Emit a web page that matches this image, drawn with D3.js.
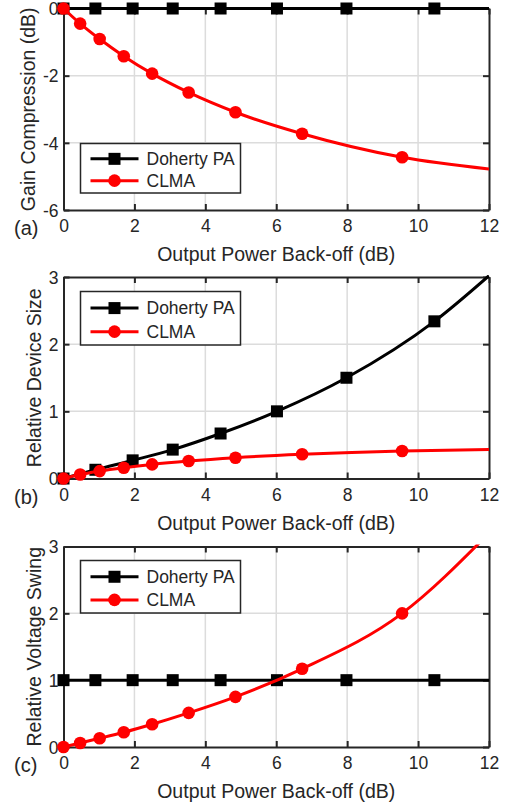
<!DOCTYPE html>
<html>
<head>
<meta charset="utf-8">
<script src="https://cdn.jsdelivr.net/npm/d3@7/dist/d3.min.js"></script>
<style>
  html, body { margin: 0; padding: 0; background: #fff; }
  svg { display: block; }
  text { font-family: "Liberation Sans", Arial, Helvetica, sans-serif; fill: #262626; }
</style>
</head>
<body>
<script>
// ---------------- DATA ----------------
const xTicks = [0, 2, 4, 6, 8, 10, 12];
const xTickLabels = ["0", "2", "4", "6", "8", "10", "12"];
const xDoherty = [0, 0.9, 1.95, 3.08, 4.43, 6.02, 7.98, 10.46];
const xCLMA = [0, 0.47, 1.02, 1.7, 2.5, 3.53, 4.85, 6.73, 9.55];
const xEnd = 12;

// (a) Gain compression (dB)
const gainDoherty = [0, 0, 0, 0, 0, 0, 0, 0];
const gainDohertyEnd = 0;
const gainCLMA = [0, -0.45, -0.91, -1.42, -1.94, -2.5, -3.09, -3.73, -4.43];
const gainCLMAEnd = -4.78;
const gainTicks = [0, -2, -4, -6];
const gainTickLabels = ["0", "-2", "-4", "-6"];

// (b) Relative device size
const sizeDoherty = [0, 0.13, 0.27, 0.43, 0.67, 1.0, 1.5, 2.34];
const sizeDohertyEnd = 3.02;
const sizeCLMA = [0, 0.06, 0.11, 0.16, 0.21, 0.26, 0.31, 0.36, 0.41];
const sizeCLMAEnd = 0.43;
const sizeTicks = [0, 1, 2, 3];
const sizeTickLabels = ["0", "1", "2", "3"];

// (c) Relative voltage swing
const swingDoherty = [1, 1, 1, 1, 1, 1, 1, 1];
const swingDohertyEnd = 1;
const swingCLMA = [0, 0.06, 0.13, 0.22, 0.34, 0.51, 0.75, 1.17, 2.0];
const swingCLMAEnd = 3.2;
const swingTicks = [0, 1, 2, 3];
const swingTickLabels = ["0", "1", "2", "3"];

const seriesNames = ["Doherty PA", "CLMA"];
const xLabel = "Output Power Back-off (dB)";

// ---------------- DRAW ----------------
const W = 509, H = 803;
const svg = d3.select("body").append("svg").attr("width", W).attr("height", H);
const dark = "#262626";
const gridCol = "#dcdcdc";
const left = 63.5, right = 489;
const tickFont = 17.5, labelFont = 19.5;

const panels = [
  { tag: "(a)", top: 8.5, bottom: 210, domain: [-6, 0], ticks: gainTicks, tickLabels: gainTickLabels, ylabel: "Gain Compression (dB)",
    dY: gainDoherty, dEnd: gainDohertyEnd, cY: gainCLMA, cEnd: gainCLMAEnd,
    legend: { top: 143.5, bottom: 193 }, ylabelX: 35 },
  { tag: "(b)", top: 277, bottom: 478.5, domain: [0, 3], ticks: sizeTicks, tickLabels: sizeTickLabels, ylabel: "Relative Device Size",
    dY: sizeDoherty, dEnd: sizeDohertyEnd, cY: sizeCLMA, cEnd: sizeCLMAEnd,
    legend: { top: 291.5, bottom: 345 }, ylabelX: 41 },
  { tag: "(c)", top: 546.5, bottom: 747, domain: [0, 3], ticks: swingTicks, tickLabels: swingTickLabels, ylabel: "Relative Voltage Swing",
    dY: swingDoherty, dEnd: swingDohertyEnd, cY: swingCLMA, cEnd: swingCLMAEnd,
    legend: { top: 560.5, bottom: 613 }, ylabelX: 41 }
];

const x = d3.scaleLinear().domain([0, 12]).range([left, right]);

panels.forEach((p, i) => {
  const y = d3.scaleLinear().domain(p.domain).range([p.bottom, p.top]);
  const g = svg.append("g");

  // grid
  g.selectAll(".gx").data(xTicks.slice(1, -1)).enter().append("line")
    .attr("x1", d => x(d)).attr("x2", d => x(d))
    .attr("y1", p.top).attr("y2", p.bottom)
    .attr("stroke", gridCol).attr("stroke-width", 1.5);
  g.selectAll(".gy").data(p.ticks.filter(t => t !== p.domain[0] && t !== p.domain[1])).enter().append("line")
    .attr("x1", left).attr("x2", right)
    .attr("y1", d => y(d)).attr("y2", d => y(d))
    .attr("stroke", gridCol).attr("stroke-width", 1.5);

  const axB = d3.axisBottom(x).tickValues(xTicks).tickFormat((d, k) => xTickLabels[k]).tickSizeInner(-6).tickSizeOuter(0).tickPadding(12);
  const axT = d3.axisTop(x).tickValues(xTicks).tickFormat("").tickSizeInner(-6).tickSizeOuter(0);
  const axL = d3.axisLeft(y).tickValues(p.ticks).tickFormat((d, k) => p.tickLabels[k]).tickSizeInner(-6).tickSizeOuter(0).tickPadding(12);
  const axR = d3.axisRight(y).tickValues(p.ticks).tickFormat("").tickSizeInner(-6).tickSizeOuter(0);

  const styleAxis = sel => {
    sel.select(".domain").attr("stroke", dark).attr("stroke-width", 2);
    sel.selectAll(".tick line").attr("stroke", dark).attr("stroke-width", 2);
    sel.selectAll(".tick text").attr("fill", dark).style("font-size", tickFont + "px")
      .style("font-family", '"Liberation Sans", Arial, Helvetica, sans-serif');
  };
  g.append("g").attr("transform", `translate(0,${p.bottom})`).call(axB).call(styleAxis)
    .selectAll(".tick text").attr("dy", "0.71em").attr("y", 10);
  g.append("g").attr("transform", `translate(0,${p.top})`).call(axT).call(styleAxis);
  g.append("g").attr("transform", `translate(${left},0)`).call(axL).call(styleAxis)
    .selectAll(".tick text").attr("x", -5).attr("dy", "0.36em");
  g.append("g").attr("transform", `translate(${right},0)`).call(axR).call(styleAxis);

  const clipId = "clip" + i;
  svg.append("clipPath").attr("id", clipId).append("rect")
    .attr("x", left).attr("y", p.top - 2).attr("width", right - left).attr("height", p.bottom - p.top + 4);

  const line = d3.line().x(d => x(d[0])).y(d => y(d[1])).curve(d3.curveMonotoneX);
  const dPts = xDoherty.map((xv, k) => [xv, p.dY[k]]);
  const cPts = xCLMA.map((xv, k) => [xv, p.cY[k]]);

  g.append("path").datum(dPts.concat([[xEnd, p.dEnd]])).attr("d", line)
    .attr("fill", "none").attr("stroke", "#000").attr("stroke-width", 3).attr("clip-path", `url(#${clipId})`);
  g.selectAll(".sq").data(dPts).enter().append("rect")
    .attr("x", d => x(d[0]) - 6).attr("y", d => y(d[1]) - 6).attr("width", 12).attr("height", 12)
    .attr("fill", "#000");
  g.append("path").datum(cPts.concat([[xEnd, p.cEnd]])).attr("d", line)
    .attr("fill", "none").attr("stroke", "#ff0000").attr("stroke-width", 3).attr("clip-path", `url(#${clipId})`);
  g.selectAll(".ci").data(cPts).enter().append("circle")
    .attr("cx", d => x(d[0])).attr("cy", d => y(d[1])).attr("r", 6.3)
    .attr("fill", "#ff0000");

  // legend
  const L = p.legend;
  const lg = g.append("g");
  lg.append("rect").attr("x", 80.5).attr("y", L.top).attr("width", 160).attr("height", L.bottom - L.top)
    .attr("fill", "#fff").attr("stroke", dark).attr("stroke-width", 1.5);
  const rowH = (L.bottom - L.top);
  const rows = [L.top + rowH * 0.31, L.top + rowH * 0.75];
  seriesNames.forEach((name, k) => {
    const ry = rows[k];
    const col = k === 0 ? "#000" : "#ff0000";
    lg.append("line").attr("x1", 90.5).attr("x2", 138.5).attr("y1", ry).attr("y2", ry)
      .attr("stroke", col).attr("stroke-width", 3);
    if (k === 0) {
      lg.append("rect").attr("x", 114.5 - 6).attr("y", ry - 6).attr("width", 12).attr("height", 12).attr("fill", col);
    } else {
      lg.append("circle").attr("cx", 114.5).attr("cy", ry).attr("r", 6.3).attr("fill", col);
    }
    lg.append("text").attr("x", 146.5).attr("y", ry).attr("dy", "0.36em")
      .style("font-size", tickFont + "px").text(name);
  });

  svg.append("text").attr("x", (left + right) / 2).attr("y", p.bottom + 51)
    .attr("text-anchor", "middle").style("font-size", labelFont + "px").text(xLabel);
  svg.append("text").attr("transform", `translate(${p.ylabelX},${(p.top + p.bottom) / 2}) rotate(-90)`)
    .attr("text-anchor", "middle").style("font-size", labelFont + "px").text(p.ylabel);
  svg.append("text").attr("x", 14).attr("y", p.bottom + 25)
    .style("font-size", "20px").text(p.tag);
});
</script>
</body>
</html>
